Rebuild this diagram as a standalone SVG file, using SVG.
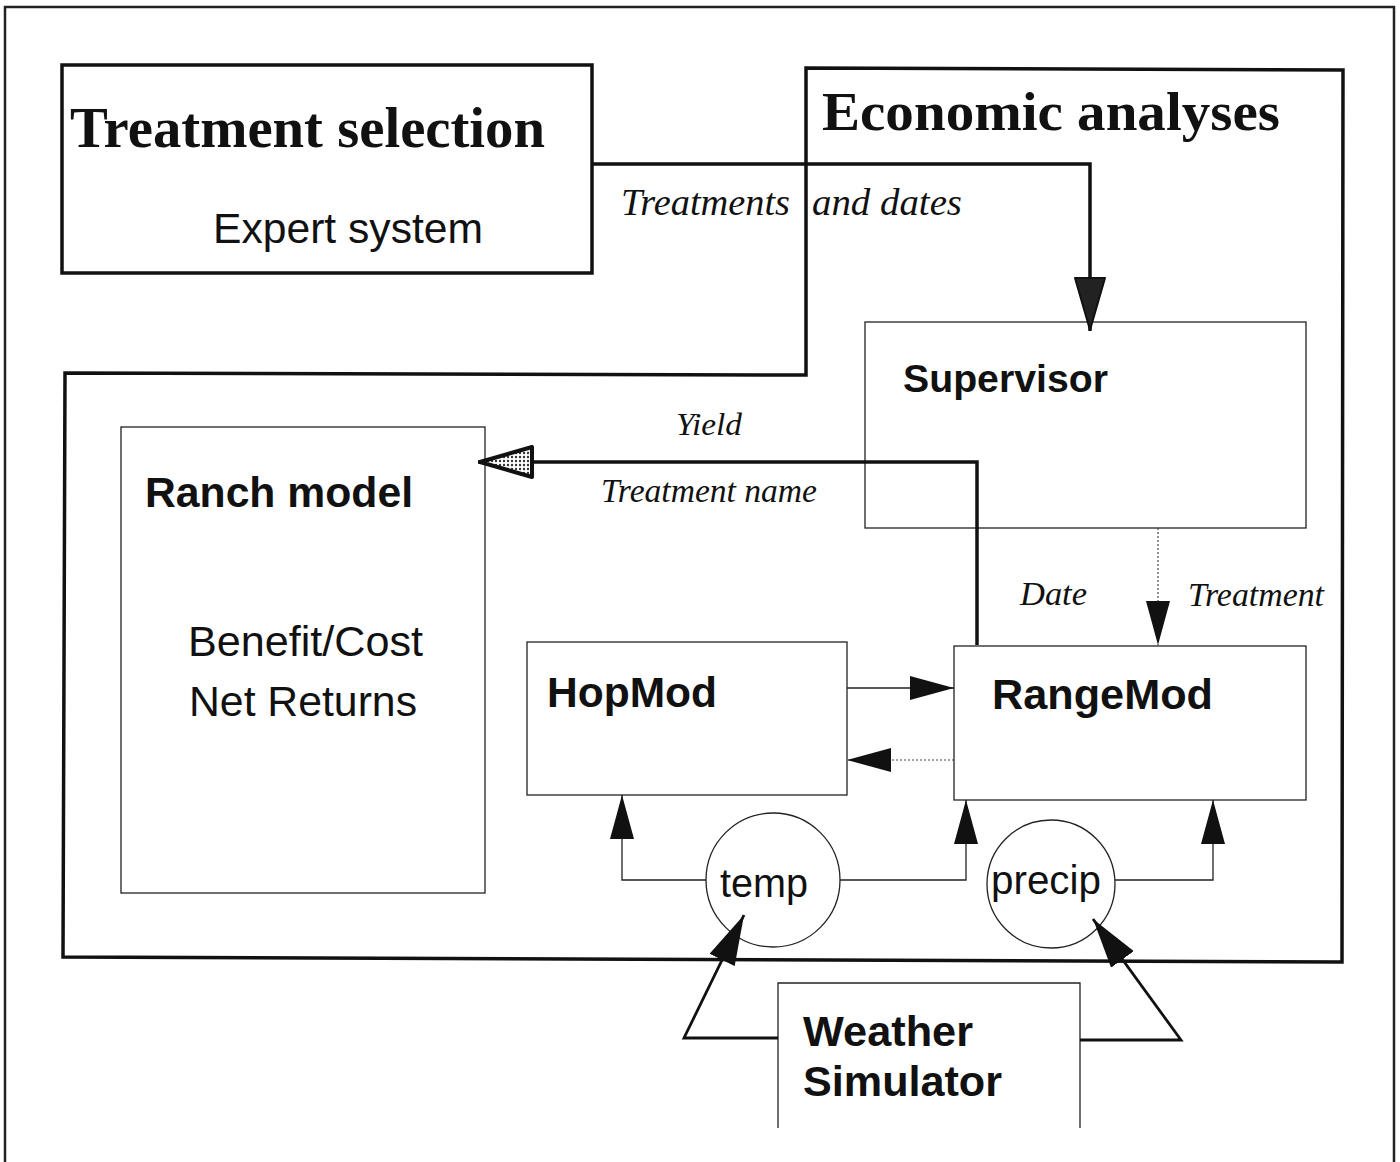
<svg xmlns="http://www.w3.org/2000/svg" width="1400" height="1162" viewBox="0 0 1400 1162">
<style>
.thick{fill:none;stroke:#111;stroke-width:3.5}
.box{fill:none;stroke:#222;stroke-width:1.3}
.conn{fill:none;stroke:#222;stroke-width:1.3}
.dot{fill:none;stroke:#444;stroke-width:1.2;stroke-dasharray:2 2}
.heavy{fill:none;stroke:#111;stroke-width:3.5}
.serifb{font-family:"Liberation Serif","Times New Roman",serif;font-weight:bold;fill:#111}
.serifi{font-family:"Liberation Serif","Times New Roman",serif;font-style:italic;fill:#111}
.sans{font-family:"Liberation Sans",Arial,sans-serif;fill:#111}
.sansb{font-family:"Liberation Sans",Arial,sans-serif;font-weight:bold;fill:#111}
</style>
<defs>
<pattern id="stip" width="4" height="4" patternUnits="userSpaceOnUse">
<rect width="4" height="4" fill="#fff"/>
<circle cx="2" cy="2" r="1.2" fill="#333"/>
</pattern>
<marker id="arr" viewBox="0 0 44 24" refX="44" refY="12" markerWidth="44" markerHeight="24" markerUnits="userSpaceOnUse" orient="auto">
<path d="M0,0 L44,12 L0,24 Z" fill="#111"/>
</marker>
<marker id="arrW" viewBox="0 0 50 28" refX="50" refY="14" markerWidth="50" markerHeight="28" markerUnits="userSpaceOnUse" orient="auto">
<path d="M0,0 L50,14 L0,28 Z" fill="#111"/>
</marker>
<marker id="arrDark" viewBox="0 0 54 32" refX="54" refY="16" markerWidth="54" markerHeight="32" markerUnits="userSpaceOnUse" orient="auto">
<path d="M1,1 L53,16 L1,31 Z" fill="#222" stroke="#111" stroke-width="2" stroke-linejoin="round"/>
</marker>
<marker id="arrStip" viewBox="0 0 56 34" refX="56" refY="17" markerWidth="56" markerHeight="34" markerUnits="userSpaceOnUse" orient="auto">
<path d="M2,2 L54,17 L2,32 Z" fill="url(#stip)" stroke="#111" stroke-width="4" stroke-linejoin="round"/>
</marker>
</defs>
<rect width="1400" height="1162" fill="#fff"/>
<path d="M5,1162 V7 H1394 V1162" fill="none" stroke="#222" stroke-width="2.5"/>

<g id="economic-analyses">
<polygon class="thick" points="806,68 1343,70 1342,962 63,957 65,373 806,375"/>
<text class="serifb" x="822" y="130" font-size="54" textLength="458" lengthAdjust="spacingAndGlyphs">Economic analyses</text>
</g>

<g id="treatment-selection">
<rect class="thick" x="62" y="65" width="530" height="208"/>
<text class="serifb" x="70" y="147" font-size="56" textLength="475" lengthAdjust="spacingAndGlyphs">Treatment selection</text>
<text class="sans" x="213" y="243" font-size="42" textLength="270" lengthAdjust="spacingAndGlyphs">Expert system</text>
</g>

<g id="supervisor">
<rect class="box" x="865" y="322" width="441" height="206"/>
<text class="sansb" x="903" y="392" font-size="39" textLength="205" lengthAdjust="spacingAndGlyphs">Supervisor</text>
</g>

<g id="ranch-model">
<rect class="box" x="121" y="427" width="364" height="466"/>
<text class="sansb" x="145" y="507" font-size="42" textLength="268" lengthAdjust="spacingAndGlyphs">Ranch model</text>
<text class="sans" x="188" y="656" font-size="42" textLength="235" lengthAdjust="spacingAndGlyphs">Benefit/Cost</text>
<text class="sans" x="189" y="716" font-size="42" textLength="228" lengthAdjust="spacingAndGlyphs">Net Returns</text>
</g>

<g id="hopmod">
<rect class="box" x="527" y="642" width="320" height="153"/>
<text class="sansb" x="547" y="707" font-size="42" textLength="170" lengthAdjust="spacingAndGlyphs">HopMod</text>
</g>

<g id="rangemod">
<rect class="box" x="954" y="646" width="352" height="154"/>
<text class="sansb" x="992" y="709" font-size="42" textLength="221" lengthAdjust="spacingAndGlyphs">RangeMod</text>
</g>

<g id="temp">
<circle class="box" cx="773" cy="880" r="67" fill="#fff"/>
<text class="sans" x="720" y="897" font-size="40" textLength="88" lengthAdjust="spacingAndGlyphs">temp</text>
</g>

<g id="precip">
<circle class="box" cx="1051" cy="884" r="64" fill="#fff"/>
<text class="sans" x="991" y="894" font-size="40" textLength="110" lengthAdjust="spacingAndGlyphs">precip</text>
</g>

<g id="weather-simulator">
<path class="box" d="M778,1128 V983 H1080 V1128"/>
<text class="sansb" x="803" y="1046" font-size="42" textLength="170" lengthAdjust="spacingAndGlyphs">Weather</text>
<text class="sansb" x="803" y="1096" font-size="42" textLength="199" lengthAdjust="spacingAndGlyphs">Simulator</text>
</g>

<g id="connectors">
<path class="heavy" d="M592,164 H1090 V331" marker-end="url(#arrDark)"/>
<path class="heavy" d="M977,645 V462 H478" marker-end="url(#arrStip)"/>
<path class="dot" d="M1158,528 V645" marker-end="url(#arr)"/>
<path class="conn" d="M847,688 H954" marker-end="url(#arr)"/>
<path class="dot" d="M954,760 H847" marker-end="url(#arr)"/>
<path class="conn" d="M706,880 H622 V795" marker-end="url(#arr)"/>
<path class="conn" d="M840,880 H966 V800" marker-end="url(#arr)"/>
<path class="conn" d="M1115,880 H1213 V800" marker-end="url(#arr)"/>
<path class="heavy" style="stroke-width:2.8" d="M778,1038 H684 L744,915" marker-end="url(#arrW)"/>
<path class="heavy" style="stroke-width:2.8" d="M1080,1040 H1181 L1093,919" marker-end="url(#arrW)"/>
<text class="serifi" x="621" y="215" font-size="38" textLength="169" lengthAdjust="spacingAndGlyphs">Treatments</text>
<text class="serifi" x="812" y="215" font-size="38" textLength="150" lengthAdjust="spacingAndGlyphs">and dates</text>
<text class="serifi" x="676" y="435" font-size="32" textLength="66" lengthAdjust="spacingAndGlyphs">Yield</text>
<text class="serifi" x="601" y="502" font-size="33" textLength="216" lengthAdjust="spacingAndGlyphs">Treatment name</text>
<text class="serifi" x="1020" y="605" font-size="34" textLength="67" lengthAdjust="spacingAndGlyphs">Date</text>
<text class="serifi" x="1188" y="606" font-size="33" textLength="136" lengthAdjust="spacingAndGlyphs">Treatment</text>
</g>
</svg>
